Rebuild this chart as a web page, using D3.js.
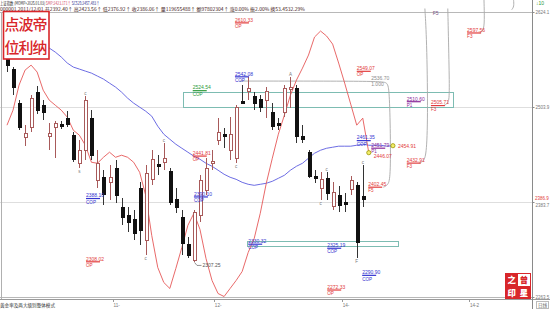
<!DOCTYPE html>
<html>
<head>
<meta charset="utf-8">
<script src="https://cdn.jsdelivr.net/npm/d3@7/dist/d3.min.js"></script>
<style>
  html,body{margin:0;padding:0;background:#fff;}
  svg{display:block;}
  text{font-family:"Liberation Sans","DejaVu Sans",sans-serif;}
  .cjk{font-family:"Noto Sans CJK SC",sans-serif;}
</style>
</head>
<body>
<svg id="chart" width="550" height="309"></svg>
<script>
// ---- 上证指数 daily bars ----
const openP = [2565.8, 2551.9, 2508.8, 2465.7, 2478.3, 2522.7, 2506.2, 2466.9, 2478.3, 2482.2,
  2489.8, 2468.2, 2432.7, 2449.2, 2489.8, 2411.2, 2415.0, 2408.6, 2426.4, 2376.9,
  2366.8, 2361.7, 2401.0, 2335.1, 2412.4, 2431.5, 2434.0, 2422.6, 2387.1, 2364.3,
  2330.0, 2309.8, 2366.8, 2398.5, 2432.7, 2461.9, 2469.5, 2449.2, 2439.1, 2511.3,
  2524.0, 2517.6, 2513.8, 2512.6, 2497.4, 2483.4, 2497.4, 2526.5, 2527.8, 2466.9,
  2446.7, 2416.2, 2401.0, 2413.7, 2378.2, 2392.2, 2383.3, 2399.8, 2404.8, 2390.9];
const closeP = [2556.9, 2529.1, 2478.3, 2470.7, 2515.1, 2499.9, 2497.4, 2470.7, 2483.4, 2479.6,
  2482.2, 2437.8, 2449.2, 2512.6, 2442.9, 2432.7, 2393.4, 2415.0, 2392.2, 2364.3,
  2358.0, 2344.0, 2347.8, 2420.1, 2437.8, 2428.9, 2439.1, 2383.3, 2376.9, 2331.3,
  2316.1, 2370.6, 2411.2, 2426.4, 2435.3, 2472.0, 2466.9, 2469.5, 2503.7, 2508.8,
  2527.8, 2508.8, 2503.7, 2524.0, 2479.6, 2480.9, 2527.8, 2529.1, 2466.9, 2463.1,
  2416.2, 2413.7, 2412.4, 2394.7, 2396.0, 2379.5, 2380.8, 2411.2, 2332.6, 2386.9];
const highP = [2569.6, 2554.4, 2512.6, 2480.9, 2518.9, 2530.3, 2512.6, 2483.4, 2486.0, 2486.0,
  2498.6, 2472.0, 2461.9, 2517.6, 2499.9, 2449.2, 2423.9, 2430.2, 2436.5, 2388.4,
  2376.9, 2373.2, 2408.6, 2430.2, 2449.2, 2442.9, 2458.1, 2426.4, 2401.0, 2373.2,
  2338.9, 2373.2, 2417.5, 2439.1, 2449.2, 2489.8, 2477.1, 2491.0, 2506.2, 2531.6,
  2542.08, 2522.7, 2518.9, 2529.1, 2508.8, 2489.8, 2531.6, 2541.7, 2531.6, 2480.9,
  2449.2, 2423.9, 2421.3, 2421.3, 2408.6, 2403.6, 2394.7, 2416.2, 2408.6, 2430.2];
const lowP = [2548.1, 2518.9, 2474.5, 2454.3, 2472.0, 2494.8, 2487.2, 2449.2, 2439.1, 2475.8,
  2478.3, 2434.0, 2426.4, 2436.5, 2436.5, 2401.0, 2379.5, 2385.8, 2382.0, 2354.2,
  2345.3, 2335.1, 2328.8, 2316.1, 2404.8, 2417.5, 2423.9, 2379.5, 2369.4, 2316.1,
  2312.3, 2307.25, 2358.0, 2392.2, 2423.9, 2455.5, 2451.7, 2436.5, 2432.7, 2507.5,
  2512.6, 2499.9, 2497.4, 2489.8, 2474.5, 2474.5, 2491.0, 2502.4, 2458.1, 2458.1,
  2413.7, 2407.4, 2385.8, 2385.8, 2373.2, 2370.6, 2370.6, 2392.2, 2312.3, 2376.9];

// fast oscillator overlay (one value per bar, plus one projected step)
const redLine = [2480.9, 2499.9, 2531.6, 2550.6, 2556.9, 2548.1, 2525.2, 2512.6, 2506.2, 2499.9,
  2491.0, 2474.5, 2468.2, 2455.5, 2434.0, 2432.7, 2440.3, 2446.7, 2440.3, 2442.9,
  2440.3, 2434.0, 2421.3, 2392.2, 2341.5, 2300.9, 2281.9, 2274.3, 2299.6, 2326.2,
  2354.2, 2369.4, 2349.1, 2312.3, 2284.4, 2267.9, 2264.1, 2274.3, 2284.4, 2295.8,
  2319.9, 2337.7, 2369.4, 2407.4, 2439.1, 2469.5, 2493.6, 2518.9, 2537.9, 2553.1,
  2569.6, 2592.4, 2600.0, 2593.7, 2583.5, 2559.5, 2534.1, 2507.5, 2480.9, 2489.8,
  2446.07];
// displaced moving average (runs ahead of the last bar)
const blueLine = [2616.5, 2611.4, 2605.1, 2598.7, 2592.4, 2587.3, 2583.5, 2578.5, 2573.4, 2567.1,
  2559.5, 2554.4, 2551.9, 2549.3, 2546.8, 2543.0, 2539.2, 2534.1, 2529.1, 2522.7,
  2515.1, 2508.8, 2503.7, 2498.6, 2492.3, 2479.6, 2469.5, 2463.1, 2456.8, 2451.7,
  2446.7, 2441.6, 2437.8, 2432.7, 2428.9, 2423.9, 2418.8, 2415.0, 2412.4, 2408.6,
  2406.1, 2404.8, 2406.1, 2407.4, 2409.9, 2413.7, 2417.5, 2423.9, 2428.9, 2432.7,
  2439.1, 2445.4, 2449.2, 2451.7, 2453.0, 2454.3, 2454.3, 2454.3, 2455.5, 2456.8,
  2455.5, 2455.5, 2455.5, 2454.3, 2454.91];

// price axis
const axisTicks = [2624.1, 2503.9, 2383.7, 2263.5];
const lastPrice = 2386.9;

// time axis
const timeTickBar = [17.5, 34.3, 55.5, 76.6];
const timeTickText = ["11-", "12-", "14-", "14-2"];

// DiNapoli objective / retracement levels
const levelPrice = [2610.33, 2549.07, 2542.08, 2524.54, 2461.35, 2441.81, 2390.10, 2388.10, 2330.32,
  2325.19, 2308.02, 2290.90, 2272.33, 2451.79, 2510.60, 2505.71, 2432.91, 2402.45, 2597.56];
const levelKind = ["OP", "OP", "COP", "COP", "COP", "OP", "COP", "COP", "COP",
  "COP", "OP", "COP", "OP", "P1", "P1", "F3", "F3", "F5", "F3"];
const levelBar = [37.8, 58.0, 37.8, 30.8, 58.0, 30.8, 31.0, 13.1, 40.0,
  53.1, 13.1, 58.9, 53.1, 60.4, 66.3, 70.3, 66.3, 59.9, 76.3];
const levelSwing = [1, 1, 1, 2, 1, 1, 1, 1, 1, 1, 1, 1, 1, 1, 1, 1, 1, 1, 1];

// confluence zones
const zoneFrom = [29.2, 39.8];
const zoneTo = [74.0, 64.8];
const zoneHigh = [2522.7, 2333.9];
const zoneLow = [2503.7, 2327.5];

// reference level with ratio
const ratioLevel = 2536.70;
const ratioText = "1.000";
const ratioFrom = 38.6;
const ratioBar = 60.4;

// bar markers
const markBar = [12, 13, 23, 26, 38, 47, 52, 53, 58, 59];
const markText = ["s", "c", "c", "c", "c", "A", "c", "c", "F", "c"];
const markAbove = [false, true, false, true, false, true, false, true, false, true];

// swing low note
const swingLowBar = 31;

// connectors between swing points and their levels: [bar, price]
const connectors = [
  [[ratioFrom, ratioLevel], [62.0, ratioLevel], [63.1, 2535.0], [63.4, 2525], [63.6, 2470], [63.6, 2415], [63.2, 2405], [62.4, 2402.45]],
  [[69.3, 2628.5], [69.6, 2590], [69.8, 2500], [69.6, 2445], [69.1, 2435], [68.3, 2432.91]],
  [[73.1, 2628.5], [73.3, 2560], [73.4, 2515], [73.1, 2508], [72.4, 2505.71]],
  [[79.1, 2640], [79.2, 2612], [79.0, 2600], [78.4, 2597.56]],
  [[84.0, 2640], [84.1, 2631], [83.7, 2627]]
];

// ---------------- drawing ----------------
const svg = d3.select("#chart");
const W = 550, H = 309;
const plotL = 0, plotR = 532;

const y = d3.scaleLinear().domain([2263.5, 2624.1]).range([297, 12]);
const x = d3.scaleLinear().domain([0, 60]).range([7, 368.8]);
const cx = i => Math.round(x(i)) + 0.5;
const cy = v => Math.round(y(v)) + 0.5;

const upCol = "#a85a5a", downCol = "#111";
const red = "#e23b3b", blue = "#3434d0", green = "#2c9a3a", purple = "#8a2a9a", gray = "#8c8c8c";
const kindColor = k => k === "OP" ? red : k === "COP" ? blue : k === "P1" ? purple : red;

// header lines: natural text squeezed horizontally to the panel's header width
function headerLine(yPos, width, parts) {
  const g = svg.append("g");
  const t = g.append("text").attr("class", "cjk").attr("x", 0).attr("y", yPos).attr("font-size", 4.8);
  parts.forEach(p => t.append("tspan").attr("fill", p[1]).text(p[0]));
  const natural = t.node().getComputedTextLength();
  g.attr("transform", `scale(${width / natural},1)`);
}
headerLine(4.6, 100, [["上证指数 (MOMP+2025.01.03) ", "#222"], ["SMP:2423.171↑ ", "#d04060"], ["SC525:2457.483↑", "#2a2a8a"]]);
headerLine(10.6, 306, [["000001  2011/12/01  开2392.40↑ 高2423.56↑ 低2376.92↑ 收2386.06↑ 量119655488↑ 额97802304↑ 涨0.00% 振2.00% 换53.4532.29%", "#442222"]]);
svg.append("text").attr("x", 536).attr("y", 5).attr("fill", "#2a9a3a").attr("font-size", 5).text("↓10");

// frame and grid
const frame = svg.append("g").attr("shape-rendering", "crispEdges");
frame.selectAll("line.grid").data(axisTicks).join("line")
  .attr("x1", plotL).attr("x2", plotR)
  .attr("y1", d => cy(d)).attr("y2", d => cy(d))
  .attr("stroke", (d, i) => (i === 0 || i === axisTicks.length - 1) ? "#b8b8b8" : "#dedede");
frame.append("line").attr("x1", 1.5).attr("x2", 1.5).attr("y1", cy(axisTicks[0])).attr("y2", 299)
  .attr("stroke", "#b0b0b0");
frame.append("line").attr("x1", plotL).attr("x2", W).attr("y1", 299.5).attr("y2", 299.5)
  .attr("stroke", "#9a9a9a");

// right price axis
const yAxis = d3.axisRight(y).tickValues(axisTicks).tickSize(2).tickPadding(1)
  .tickFormat(d3.format(".1f"));
const ax = svg.append("g").attr("transform", `translate(${plotR + 0.5},0)`).call(yAxis);
ax.select(".domain").remove();
ax.append("line").attr("y1", 0).attr("y2", 309).attr("stroke", "#8a8a8a").attr("shape-rendering", "crispEdges");
ax.selectAll(".tick line").attr("stroke", "#8a8a8a");
ax.selectAll(".tick text").attr("font-size", 4.5).attr("fill", "#777")
  .attr("font-family", "Liberation Sans, sans-serif")
  .attr("dy", (d, i) => i === 2 ? "0.9em" : "0.32em");
// last price tag
svg.append("text").attr("x", 535).attr("y", y(lastPrice) + 0.8).attr("font-size", 4.5)
  .attr("fill", red).text(d3.format(".1f")(lastPrice));

// time axis
const tx = svg.append("g");
tx.selectAll("line").data(timeTickBar).join("line")
  .attr("x1", d => cx(d)).attr("x2", d => cx(d)).attr("y1", 299.5).attr("y2", 302)
  .attr("stroke", "#999");
tx.selectAll("text").data(timeTickBar).join("text")
  .attr("x", d => x(d) + 1).attr("y", 306.5).attr("font-size", 4.6).attr("fill", "#777")
  .text((d, i) => timeTickText[i]);
svg.append("text").attr("class", "cjk").attr("x", 0).attr("y", 306.5).attr("font-size", 4.6)
  .attr("fill", "#333").attr("textLength", 55).attr("lengthAdjust", "spacingAndGlyphs")
  .text("黄金率及两大级别整体模式");
svg.append("rect").attr("x", 536.5).attr("y", 301.5).attr("width", 12).attr("height", 7)
  .attr("fill", "none").attr("stroke", "#bbb");
svg.append("text").attr("class", "cjk").attr("x", 538).attr("y", 307).attr("font-size", 4.6)
  .attr("fill", "#666").text("日线");

// confluence zones
svg.append("g").selectAll("rect").data(zoneFrom).join("rect")
  .attr("x", (d, i) => cx(zoneFrom[i])).attr("width", (d, i) => Math.round(x(zoneTo[i]) - x(zoneFrom[i])))
  .attr("y", (d, i) => cy(zoneHigh[i])).attr("height", (d, i) => Math.round(y(zoneLow[i]) - y(zoneHigh[i])))
  .attr("fill", "none").attr("stroke", "#7dbcb2").attr("stroke-width", 1)
  .attr("shape-rendering", "crispEdges");

// connectors
const connLine = d3.line().x(d => x(d[0])).y(d => y(d[1])).curve(d3.curveBasis);
svg.append("g").selectAll("path").data(connectors).join("path")
  .attr("d", connLine).attr("fill", "none").attr("stroke", "#a8a8a8").attr("stroke-width", 0.9);

// moving average and oscillator
const valLine = d3.line().x((d, i) => x(i)).y(d => y(d));
svg.append("path").attr("d", valLine(blueLine)).attr("fill", "none")
  .attr("stroke", "#5b5be0").attr("stroke-width", 0.9);
svg.append("path").attr("d", valLine(redLine)).attr("fill", "none")
  .attr("stroke", "#e55858").attr("stroke-width", 0.9);

// candles
const bars = openP.map((o, i) => ({ i, o, c: closeP[i], h: highP[i], l: lowP[i] }));
const cg = svg.append("g").attr("shape-rendering", "crispEdges");
cg.selectAll("line").data(bars).join("line")
  .attr("x1", d => cx(d.i)).attr("x2", d => cx(d.i))
  .attr("y1", d => Math.round(y(d.h))).attr("y2", d => Math.round(y(d.l)))
  .attr("stroke", d => d.c >= d.o ? upCol : "#333");
cg.selectAll("rect").data(bars).join("rect")
  .attr("x", d => cx(d.i) - 1.5).attr("width", 3)
  .attr("y", d => Math.round(Math.min(y(d.o), y(d.c))) + 0.5)
  .attr("height", d => Math.max(Math.round(Math.abs(y(d.o) - y(d.c))), 0.5))
  .attr("fill", d => d.c >= d.o ? "#fff" : downCol)
  .attr("stroke", d => d.c >= d.o ? upCol : downCol);

// bar markers
svg.append("g").selectAll("text").data(markBar).join("text")
  .attr("x", d => x(d)).attr("text-anchor", "middle").attr("font-size", 4.5).attr("fill", "#777")
  .attr("y", (d, i) => markAbove[i] ? y(highP[d]) - 1.5 : y(lowP[d]) + 5)
  .text((d, i) => markText[i]);

// swing low note
{
  const sx = cx(swingLowBar), sy = y(lowP[swingLowBar]);
  svg.append("path").attr("d", `M${sx},${sy} L${sx + 2.5},${sy + 3} L${sx + 7},${sy + 3}`)
    .attr("fill", "none").attr("stroke", "#666").attr("stroke-width", 0.7);
  svg.append("text").attr("x", sx + 8).attr("y", sy + 5).attr("font-size", 5).attr("fill", "#555")
    .text(d3.format(".2f")(lowP[swingLowBar]));
}

// level labels
const lg = svg.append("g");
levelPrice.forEach((p, i) => {
  const col = levelSwing[i] === 2 ? green : kindColor(levelKind[i]);
  const lx = x(levelBar[i]), ly = y(p);
  lg.append("text").attr("x", lx).attr("y", ly - 1.2).attr("font-size", 5).attr("fill", col)
    .text(d3.format(".2f")(p));
  lg.append("line").attr("x1", lx).attr("x2", lx + 14).attr("y1", ly).attr("y2", ly)
    .attr("stroke", col).attr("stroke-width", 1.2);
  lg.append("text").attr("x", lx).attr("y", ly + 5.2).attr("font-size", 4.6).attr("fill", col)
    .text(levelKind[i]);
});
// ratio label on the reference level
lg.append("text").attr("x", x(ratioBar)).attr("y", y(ratioLevel) - 1.5).attr("font-size", 5)
  .attr("fill", gray).text(d3.format(".2f")(ratioLevel));
lg.append("text").attr("x", x(ratioBar)).attr("y", y(ratioLevel) + 5).attr("font-size", 5)
  .attr("fill", gray).text(ratioText);
lg.append("text").attr("x", x(70.6)).attr("y", 14.5).attr("font-size", 5)
  .attr("fill", "#7a5a8a").text("F5");

// line end markers
const ends = [
  { i: redLine.length - 1, v: redLine[redLine.length - 1], dy: 5.6 },
  { i: blueLine.length - 1, v: blueLine[blueLine.length - 1], dy: 2.5 }
];
const eg = svg.append("g");
eg.selectAll("circle").data(ends).join("circle")
  .attr("cx", d => x(d.i)).attr("cy", d => y(d.v)).attr("r", 2.1)
  .attr("fill", "#f2ee6a").attr("stroke", "#9a9400").attr("stroke-width", 0.8);
eg.selectAll("text").data(ends).join("text")
  .attr("x", d => x(d.i) + 5).attr("y", d => y(d.v) + d.dy).attr("font-size", 5).attr("fill", red)
  .text(d => d3.format(".2f")(d.v));

// seals
const s1 = svg.append("g");
s1.append("rect").attr("x", 3.5).attr("y", 11.5).attr("width", 45.5).attr("height", 47.5)
  .attr("fill", "#fff").attr("stroke", "#d8262a").attr("stroke-width", 1.6);
const sealA = ["点", "波", "帝", "位", "利", "纳"];
s1.selectAll("text").data(sealA).join("text").attr("class", "cjk")
  .attr("x", (d, i) => 12 + (i % 3) * 14).attr("y", (d, i) => i < 3 ? 30 : 53)
  .attr("text-anchor", "middle").attr("font-size", 15).attr("font-weight", 500)
  .attr("fill", "#d8262a").text(d => d);

const s2 = svg.append("g");
s2.append("rect").attr("x", 505).attr("y", 273).attr("width", 26).attr("height", 26).attr("fill", "#d8262a");
s2.append("rect").attr("x", 518).attr("y", 274).attr("width", 12).attr("height", 12).attr("fill", "#fff");
const sealB = ["之", "曾", "印", "星"];
s2.selectAll("text").data(sealB).join("text").attr("class", "cjk")
  .attr("x", (d, i) => 511.7 + (i % 2) * 12.3).attr("y", (d, i) => i < 2 ? 283.2 : 295.7)
  .attr("text-anchor", "middle").attr("font-size", 8.4).attr("font-weight", 900)
  .attr("fill", (d, i) => i === 1 ? "#d8262a" : "#fff").text(d => d);
</script>
</body>
</html>
